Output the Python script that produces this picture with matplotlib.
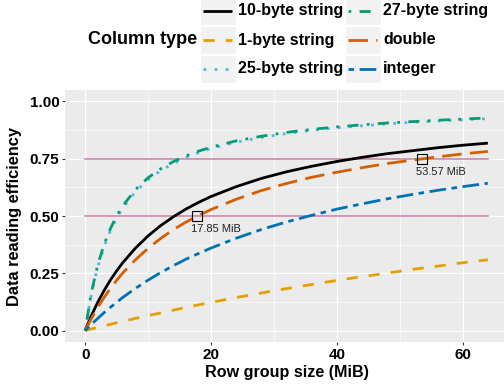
import matplotlib
matplotlib.use("Agg")
import matplotlib.pyplot as plt
from matplotlib.patches import Rectangle
from matplotlib.ticker import MultipleLocator

plt.rcParams["font.family"] = ["Liberation Sans", "DejaVu Sans"]

size_mib = [0, 1, 2, 3, 4, 5, 6, 8, 10, 12, 14, 16, 18, 20,
            24, 28, 32, 36, 40, 44, 48, 52, 56, 60, 64]

eff_10byte = [0, 0.066, 0.123, 0.174, 0.220, 0.260, 0.297, 0.360, 0.413, 0.458, 0.496, 0.530, 0.559, 0.585,
              0.628, 0.664, 0.693, 0.717, 0.738, 0.756, 0.772, 0.785, 0.798, 0.809, 0.818]
eff_1byte = [0, 0.007, 0.014, 0.021, 0.027, 0.034, 0.040, 0.053, 0.065, 0.077, 0.089, 0.101, 0.112, 0.123,
             0.144, 0.164, 0.183, 0.201, 0.219, 0.235, 0.251, 0.267, 0.281, 0.296, 0.309]
eff_25byte = [0, 0.161, 0.278, 0.366, 0.435, 0.490, 0.536, 0.606, 0.658, 0.698, 0.729, 0.755, 0.776, 0.794,
              0.822, 0.843, 0.860, 0.874, 0.885, 0.894, 0.902, 0.909, 0.915, 0.920, 0.925]
eff_27byte = [0, 0.167, 0.286, 0.375, 0.444, 0.500, 0.545, 0.615, 0.667, 0.706, 0.737, 0.762, 0.783, 0.800,
              0.828, 0.848, 0.865, 0.878, 0.889, 0.898, 0.906, 0.912, 0.918, 0.923, 0.928]
eff_double = [0, 0.053, 0.101, 0.144, 0.183, 0.219, 0.252, 0.309, 0.359, 0.402, 0.440, 0.473, 0.502, 0.528,
              0.573, 0.611, 0.642, 0.669, 0.691, 0.711, 0.729, 0.744, 0.758, 0.771, 0.782]
eff_integer = [0, 0.027, 0.053, 0.078, 0.101, 0.123, 0.145, 0.184, 0.220, 0.253, 0.283, 0.311, 0.336, 0.360,
               0.403, 0.441, 0.474, 0.503, 0.530, 0.553, 0.575, 0.594, 0.612, 0.628, 0.643]

series_names = ["10-byte string", "1-byte string", "25-byte string",
                "27-byte string", "double", "integer"]
series_values = [eff_10byte, eff_1byte, eff_25byte, eff_27byte, eff_double, eff_integer]

# reference efficiency levels and where the double curve meets them
ref_levels = [0.5, 0.75]
ref_sizes = [17.85, 53.57]
ref_labels = ["17.85 MiB", "53.57 MiB"]

colors = ["#000000", "#E69F00", "#56B4E9", "#009E73", "#D55E00", "#0072B2"]
styles = ["solid", (0, (4, 4)), (0, (1, 3)), (0, (1, 3, 4, 3)), (0, (7, 3)), (0, (2, 2, 6, 2))]
LW = 2.0

W, H = 504, 385
fig = plt.figure(figsize=(W / 100, H / 100), dpi=100)
ax = fig.add_axes([65 / W, 43 / H, 443 / W, 252 / H])
ax.set_facecolor("#EBEBEB")
for s in ax.spines.values():
    s.set_visible(False)

ax.set_xlim(-3.2, 67.2)
ax.set_ylim(-0.05, 1.05)
ax.xaxis.set_major_locator(MultipleLocator(20))
ax.xaxis.set_minor_locator(MultipleLocator(10))
ax.yaxis.set_major_locator(MultipleLocator(0.25))
ax.yaxis.set_minor_locator(MultipleLocator(0.125))
ax.set_yticks([0, 0.25, 0.5, 0.75, 1.0], ["0.00", "0.25", "0.50", "0.75", "1.00"])
ax.grid(which="major", color="white", linewidth=0.9)
ax.grid(which="minor", color="white", linewidth=0.45)
ax.set_axisbelow(True)
ax.tick_params(which="major", length=2.0, width=0.8, color="#333333", pad=2,
               labelsize=11, labelcolor="black")
ax.tick_params(which="minor", length=0)
for lab in ax.get_xticklabels() + ax.get_yticklabels():
    lab.set_fontweight("bold")

for lvl in ref_levels:
    ax.plot([0, 64], [lvl, lvl], color="#CC79A7", linewidth=1.1, zorder=2)

for name, vals, c, ls in zip(series_names, series_values, colors, styles):
    ax.plot(size_mib, vals, color=c, linestyle=ls, linewidth=LW,
            solid_capstyle="butt", dash_capstyle="butt", zorder=3)

for xs, lvl, lab in zip(ref_sizes, ref_levels, ref_labels):
    ax.plot(xs, lvl, marker="s", markersize=6.5, markerfacecolor="none",
            markeredgecolor="black", markeredgewidth=0.8, zorder=4)
    ax.annotate(lab, (xs, lvl), xytext=(-4.5, -6), textcoords="offset points",
                ha="left", va="top", fontsize=8, color="#222222")

fig.text(287 / W, 1 - 372 / H, "Row group size (MiB)", ha="center", va="center",
         fontsize=11.6, fontweight="bold")
fig.text(15 / W, 1 - 216 / H, "Data reading efficiency", ha="center", va="center",
         rotation=90, fontsize=11.8, fontweight="bold")

# legend, drawn in pixel coordinates
lax = fig.add_axes([0, 0, 1, 1])
lax.set_xlim(0, W)
lax.set_ylim(H, 0)
lax.axis("off")
lax.text(197, 40, "Column type", ha="right", va="center", fontsize=13, fontweight="bold")
key_x = [200, 345]
row_y = [11, 40, 69]
for i, (name, c, ls) in enumerate(zip(series_names, colors, styles)):
    col, row = divmod(i, 3)
    x0, yc = key_x[col], row_y[row]
    lax.add_patch(Rectangle((x0, yc - 14), 36, 28, facecolor="#F2F2F2", edgecolor="white",
                            linewidth=1.0))
    lax.plot([x0 + 3, x0 + 32], [yc, yc], color=c, linestyle=ls, linewidth=LW,
             solid_capstyle="butt", dash_capstyle="butt")
    lax.text(x0 + 38, yc, name, ha="left", va="center", fontsize=11.5, fontweight="bold")

fig.savefig("out.png", dpi=100)
